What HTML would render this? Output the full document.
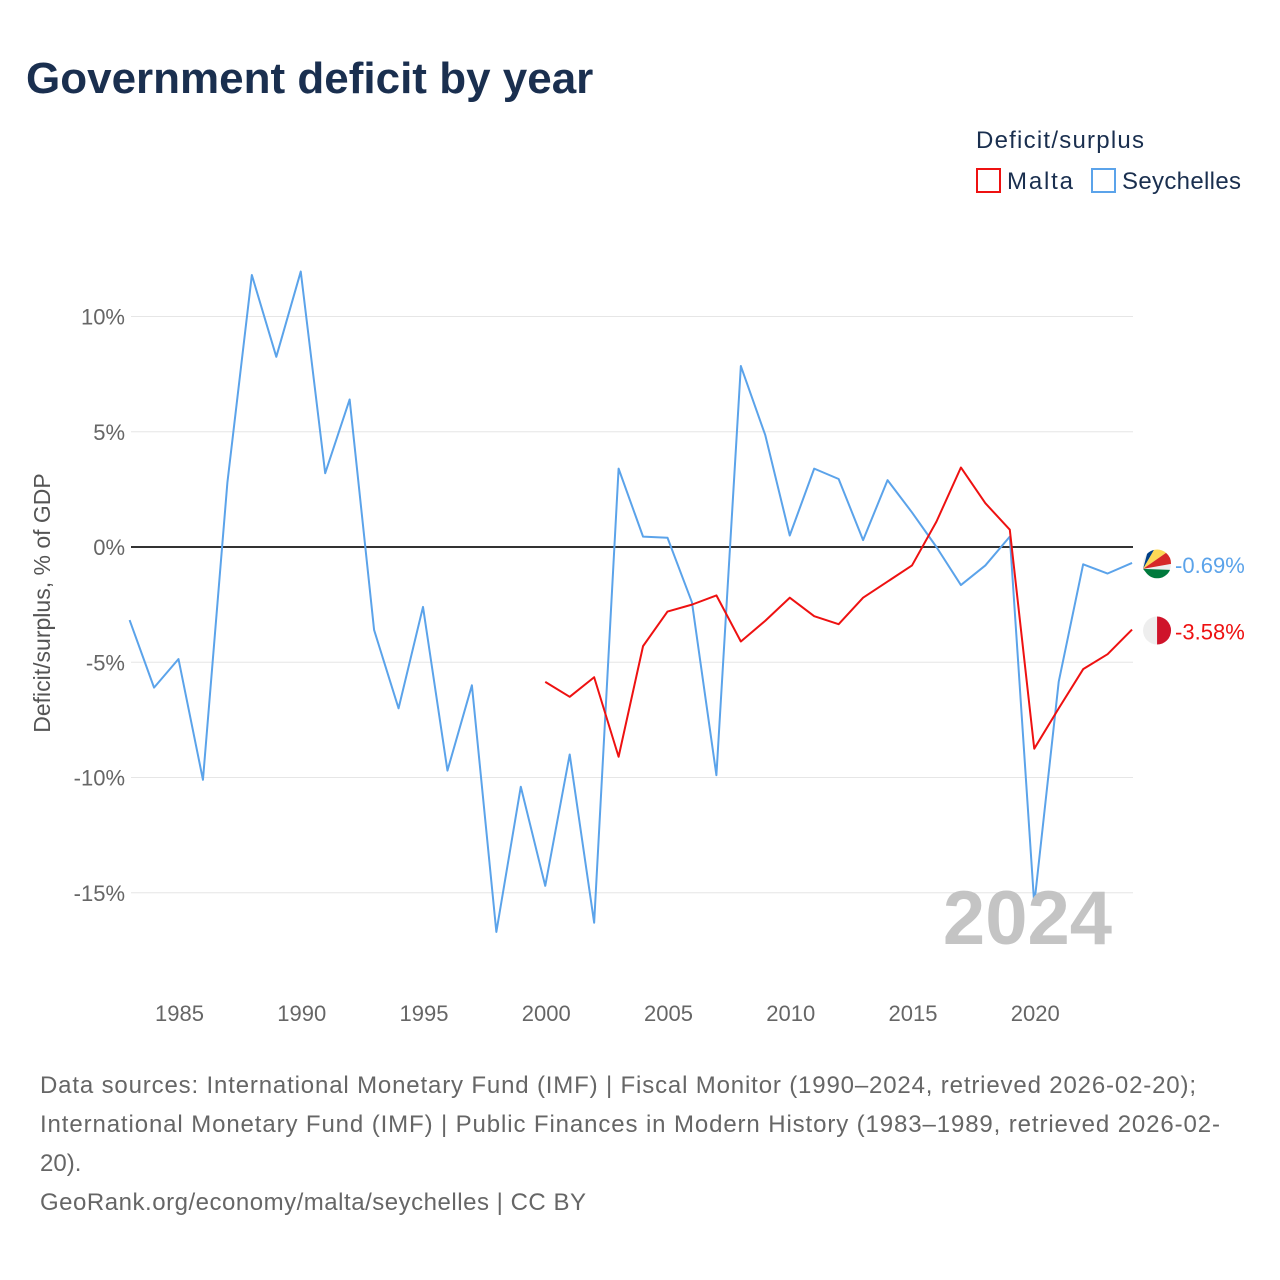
<!DOCTYPE html>
<html><head><meta charset="utf-8">
<style>
body{margin:0;background:#fff;font-family:"Liberation Sans",sans-serif;}
#wrap{position:relative;width:1280px;height:1280px;overflow:hidden;}
</style></head>
<body>
<div id="wrap">
<svg id="chart" width="1280" height="1280">
<text x="26" y="93" font-size="44" font-weight="bold" fill="#1a2f4f">Government deficit by year</text>
<text x="976" y="148" font-size="24" fill="#1a2f4f" textLength="168">Deficit/surplus</text>
<g><rect x="977" y="169" width="23" height="23" fill="none" stroke="#ee1111" stroke-width="2"/><text x="1007" y="189" font-size="24" fill="#1a2f4f" textLength="66">Malta</text></g>
<g><rect x="1092" y="169" width="23" height="23" fill="none" stroke="#5ba3ea" stroke-width="2"/><text x="1122" y="189" font-size="24" fill="#1a2f4f" textLength="119">Seychelles</text></g>
<text transform="translate(50,603) rotate(-90)" text-anchor="middle" font-size="23" fill="#555">Deficit/surplus, % of GDP</text>
<g id="grid"></g><g id="series"></g>
<text x="1112" y="944" text-anchor="end" font-size="76" font-weight="bold" fill="#c4c4c4">2024</text>
<text x="40" y="1093" font-size="24" fill="#666" textLength="1156">Data sources: International Monetary Fund (IMF) | Fiscal Monitor (1990–2024, retrieved 2026-02-20);</text>
<text x="40" y="1132" font-size="24" fill="#666" textLength="1180">International Monetary Fund (IMF) | Public Finances in Modern History (1983–1989, retrieved 2026-02-</text>
<text x="40" y="1171" font-size="24" fill="#666">20).</text>
<text x="40" y="1210" font-size="24" fill="#666" textLength="546">GeoRank.org/economy/malta/seychelles | CC BY</text>
</svg>
</div>
<script>
const yTicks=[10,5,0,-5,-10,-15];
const xTicks=[1985,1990,1995,2000,2005,2010,2015,2020];
const seyYears=[1983,1984,1985,1986,1987,1988,1989,1990,1991,1992,1993,1994,1995,1996,1997,1998,1999,2000,2001,2002,2003,2004,2005,2006,2007,2008,2009,2010,2011,2012,2013,2014,2015,2016,2017,2018,2019,2020,2021,2022,2023,2024];
const seyVals=[-3.17,-6.1,-4.86,-10.1,2.8,11.8,8.25,11.95,3.2,6.4,-3.6,-7.0,-2.6,-9.7,-6.0,-16.7,-10.4,-14.7,-9.0,-16.3,3.4,0.45,0.4,-2.4,-9.9,7.85,4.85,0.5,3.4,2.95,0.3,2.9,1.5,0,-1.65,-0.8,0.45,-15.5,-5.85,-0.75,-1.15,-0.69];
const maltaYears=[2000,2001,2002,2003,2004,2005,2006,2007,2008,2009,2010,2011,2012,2013,2014,2015,2016,2017,2018,2019,2020,2021,2022,2023,2024];
const maltaVals=[-5.85,-6.5,-5.65,-9.1,-4.3,-2.8,-2.5,-2.1,-4.1,-3.2,-2.2,-3.0,-3.35,-2.2,-1.5,-0.8,1.1,3.45,1.9,0.75,-8.75,-7.0,-5.3,-4.65,-3.58];
const NS="http://www.w3.org/2000/svg";
const xS=y=>178.5+(y-1985)*24.45;
const yS=v=>547-v*23.05;
function mk(t,a,p){const e=document.createElementNS(NS,t);for(const k in a)e.setAttribute(k,a[k]);p.appendChild(e);return e;}
const g=document.getElementById('grid');
yTicks.forEach(v=>{
 const l=mk('line',{x1:131,x2:1133,y1:yS(v),y2:yS(v),stroke:v===0?'#333':'#e6e6e6','stroke-width':v===0?2:1},g);
 
 
 const t=mk('text',{x:125,y:yS(v)+8,'text-anchor':'end','font-size':22,fill:'#666'},g);
 t.textContent=v+'%';
 
 
});
xTicks.forEach(y=>{
 const t=mk('text',{x:xS(y)+1,y:1021,'text-anchor':'middle','font-size':22,fill:'#666'},g);
 t.textContent=y;
 
 
});
const s=document.getElementById('series');
function line(ys,vs,c,name,flag){
 const p=mk('polyline',{points:ys.map((y,i)=>xS(y)+','+yS(vs[i])).join(' '),fill:'none',stroke:c,'stroke-width':2,'stroke-linejoin':'round'},s);
 
 
 const lx=xS(ys[ys.length-1]),ly=yS(vs[vs.length-1]);
 const cx=lx+25,cy=ly+1;
 const fg=mk('g',{},s);
 
 
 if(flag==='mt'){
  mk('path',{d:`M${cx},${cy-14} A14,14 0 0 0 ${cx},${cy+14} Z`,fill:'#eeeeee'},fg);
  mk('path',{d:`M${cx},${cy-14} A14,14 0 0 1 ${cx},${cy+14} Z`,fill:'#cf142b'},fg);
 } else {
  mk('circle',{cx:cx,cy:cy,r:14,fill:'#eeeeee'},fg);
  mk('path',{d:`M${cx-14},${cy+5} L${cx-10},${cy-10} A14,14 0 0 1 ${cx-3},${cy-14} Z`,fill:'#003f87'},fg);
  mk('path',{d:`M${cx-14},${cy+5} L${cx-3},${cy-14} A14,14 0 0 1 ${cx+9},${cy-11} Z`,fill:'#fcd856'},fg);
  mk('path',{d:`M${cx-14},${cy+5} L${cx+9},${cy-11} A14,14 0 0 1 ${cx+14},${cy} Z`,fill:'#d62828'},fg);
  mk('path',{d:`M${cx-14},${cy+5} L${cx+13},${cy+6} A14,14 0 0 1 ${cx-10},${cy+10} Z`,fill:'#007a3d'},fg);
 }
 const t=mk('text',{x:lx+43,y:ly+10,'font-size':22,fill:c},s);
 t.textContent=vs[vs.length-1].toFixed(2)+'%';
 
 
}
line(seyYears,seyVals,'#5ba3ea','seychelles-line','sc');
line(maltaYears,maltaVals,'#ee1111','malta-line','mt');
</script>
</body></html>
